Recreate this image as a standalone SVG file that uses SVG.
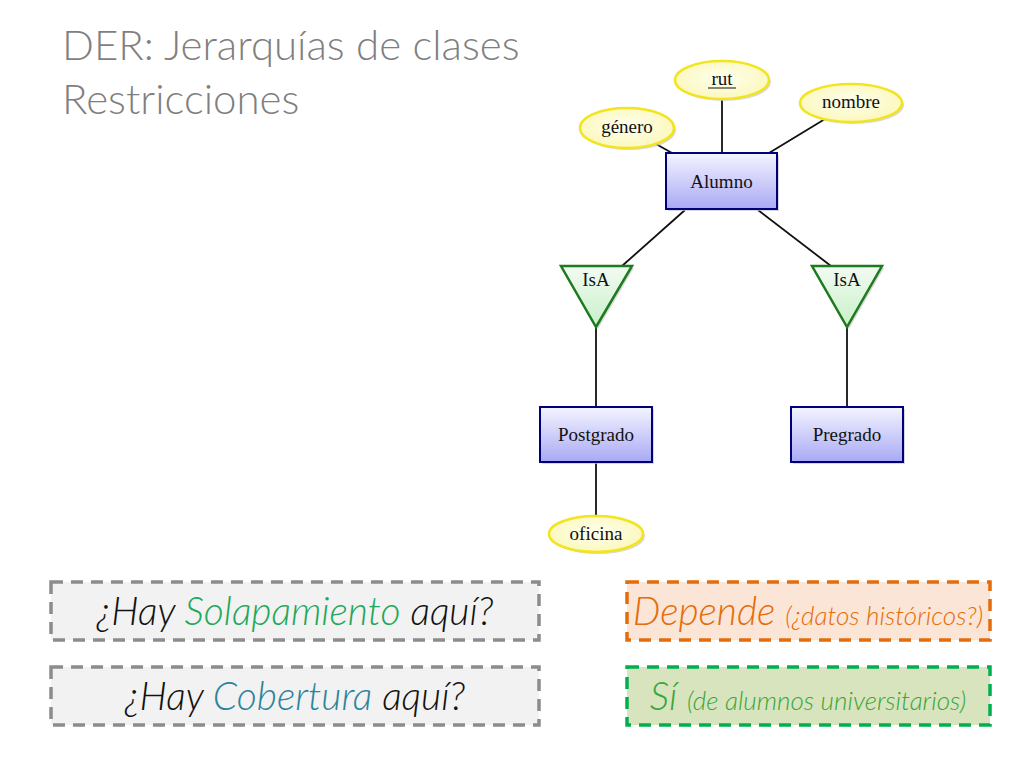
<svg xmlns="http://www.w3.org/2000/svg" width="1024" height="768" viewBox="0 0 1024 768">
<defs>
<linearGradient id="gBlue" x1="0" y1="0" x2="0" y2="1">
<stop offset="0" stop-color="#f4f4ff"/><stop offset="1" stop-color="#a9a9f5"/>
</linearGradient>
<linearGradient id="gGreen" x1="0" y1="0" x2="0" y2="1">
<stop offset="0" stop-color="#f2fbf2"/><stop offset="1" stop-color="#c8f0c8"/>
</linearGradient>
<radialGradient id="gYellow" cx="0.5" cy="0.45" r="0.6">
<stop offset="0" stop-color="#ffffee"/><stop offset="1" stop-color="#fbf7b8"/>
</radialGradient>
</defs>
<style>
.title{font-family:Lato,"Open Sans","Liberation Sans",sans-serif;font-weight:300;font-size:42px;fill:#7f7f7f}
.ent rect{fill:url(#gBlue);stroke:#00007a;stroke-width:2}
.attr ellipse{fill:url(#gYellow);stroke:#f2e41e;stroke-width:2.5}
.isa polygon{fill:url(#gGreen);stroke:#1e7a1e;stroke-width:2.5}
.ent rect.shadow,.attr ellipse.shadow,.isa polygon.shadow{fill:#c8c8c8;stroke:none;opacity:0.7}
.lbl{font-family:"Liberation Serif","DejaVu Serif",serif;font-size:19px;fill:#111;text-anchor:middle}
.conn line{stroke:#111;stroke-width:1.8}
.box{stroke-width:3.5;stroke-dasharray:12 8}
.q{font-family:Lato,"Open Sans","Liberation Sans",sans-serif;font-style:italic;font-weight:300;font-size:39px;text-anchor:middle}
.s{font-size:26px}
</style>
<text class="title" x="62" y="60">DER: Jerarquías de clases</text>
<text class="title" x="62" y="114">Restricciones</text>

<g id="connectors" class="conn">
<line x1="722" y1="99" x2="722" y2="153"/>
<line x1="825" y1="119" x2="769" y2="153"/>
<line x1="656" y1="144" x2="672" y2="153"/>
<line x1="685" y1="210" x2="622" y2="266"/>
<line x1="758" y1="210" x2="831" y2="266"/>
<line x1="596" y1="326" x2="596" y2="407"/>
<line x1="847" y1="326" x2="847" y2="407"/>
<line x1="596" y1="462" x2="596" y2="516"/>
</g>

<g id="alumno" class="ent">
<rect class="shadow" x="668" y="155" width="111" height="56"/>
<rect x="666" y="153" width="111" height="56"/>
<text class="lbl" x="721.5" y="188">Alumno</text>
</g>
<g id="postgrado" class="ent">
<rect class="shadow" x="542" y="409" width="112" height="55"/>
<rect x="540" y="407" width="112" height="55"/>
<text class="lbl" x="596" y="441">Postgrado</text>
</g>
<g id="pregrado" class="ent">
<rect class="shadow" x="793" y="409" width="112" height="55"/>
<rect x="791" y="407" width="112" height="55"/>
<text class="lbl" x="847" y="441">Pregrado</text>
</g>

<g id="rut" class="attr">
<ellipse class="shadow" cx="724" cy="82" rx="47" ry="19"/>
<ellipse cx="722" cy="80" rx="47" ry="19"/>
<text class="lbl" x="722" y="85">rut</text>
<line x1="708" y1="88" x2="736" y2="88" stroke="#111" stroke-width="1"/>
</g>
<g id="nombre" class="attr">
<ellipse class="shadow" cx="853" cy="105" rx="51" ry="19"/>
<ellipse cx="851" cy="103" rx="51" ry="19"/>
<text class="lbl" x="851" y="108">nombre</text>
</g>
<g id="genero" class="attr">
<ellipse class="shadow" cx="629" cy="130" rx="47" ry="20"/>
<ellipse cx="627" cy="128" rx="47" ry="20"/>
<text class="lbl" x="627" y="133">género</text>
</g>
<g id="oficina" class="attr">
<ellipse class="shadow" cx="598" cy="536" rx="47" ry="18"/>
<ellipse cx="596" cy="534" rx="47" ry="18"/>
<text class="lbl" x="596" y="540">oficina</text>
</g>

<g id="isa1" class="isa">
<polygon class="shadow" points="563,268 634,268 598,329"/>
<polygon points="561,266 632,266 596,327"/>
<text class="lbl" x="596" y="286">IsA</text>
</g>
<g id="isa2" class="isa">
<polygon class="shadow" points="814,268 884,268 849,329"/>
<polygon points="812,266 882,266 847,327"/>
<text class="lbl" x="847" y="286">IsA</text>
</g>

<g id="q1">
<rect class="box" x="51" y="582" width="488" height="58" fill="#f2f2f2" stroke="#8c8c8c"/>
<text class="q" x="295" y="625"><tspan fill="#111">¿Hay </tspan><tspan fill="#1fa85a">Solapamiento</tspan><tspan fill="#111"> aquí?</tspan></text>
</g>
<g id="q2">
<rect class="box" x="51" y="667" width="488" height="58" fill="#f2f2f2" stroke="#8c8c8c"/>
<text class="q" x="295" y="710"><tspan fill="#111">¿Hay </tspan><tspan fill="#2e849c">Cobertura</tspan><tspan fill="#111"> aquí?</tspan></text>
</g>
<g id="a1">
<rect class="box" x="627" y="582" width="363" height="58" fill="#fbe5d6" stroke="#e46c0a"/>
<text class="q" x="808" y="625" fill="#e46c0a">Depende <tspan class="s">(¿datos históricos?)</tspan></text>
</g>
<g id="a2">
<rect class="box" x="627" y="667" width="363" height="58" fill="#d7e4bd" stroke="#00b050"/>
<text class="q" x="808" y="710" fill="#3aa63a">Sí <tspan class="s">(de alumnos universitarios)</tspan></text>
</g>
</svg>
